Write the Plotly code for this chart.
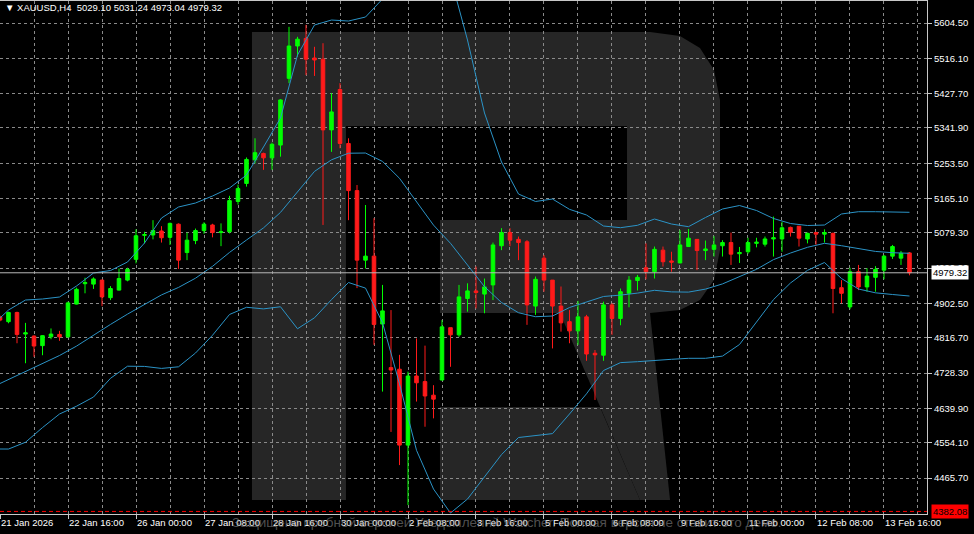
import plotly.graph_objects as go

# ---------------- data ----------------
bar_index = list(range(-1, 107))
opens = [4869, 4857, 4880, 4826, 4821, 4797, 4819, 4825, 4819, 4901, 4952, 4951, 4961, 4917, 4936, 4961,
         5013, 5073, 5074, 5084, 5068, 5101, 5030, 5060, 5085, 5099, 5080, 5082, 5158, 5203, 5262, 5278,
         5267, 5299, 5466, 5547, 5566, 5517, 5514, 5337, 5438, 5303, 5185, 5011, 5021, 4851, 4742, 4738,
         4548, 4721, 4707, 4673, 4711, 4842, 4824, 4915, 4934, 4926, 4949, 5047, 5080, 5063, 5057, 4896,
         5016, 4961, 4896, 4857, 4834, 4869, 4778, 4773, 4899, 4865, 4928, 4960, 4992, 4982, 5036, 5009,
         5004, 5045, 5063, 5035, 5038, 5047, 5055, 5027, 5032, 5053, 5051, 5064, 5064, 5093, 5096, 5064,
         5080, 5076, 5078, 4942, 4894, 4982, 4944, 4968, 4986, 5021, 5016, 5029.10]
highs = [4872, 4882, 4882, 4854, 4823, 4823, 4840, 4834, 4907, 4942, 4967, 4968, 4962, 4946, 4990, 4992,
         5088, 5082, 5111, 5096, 5105, 5103, 5080, 5090, 5106, 5102, 5103, 5172, 5200, 5268, 5316, 5280,
         5305, 5414, 5595, 5570, 5600, 5545, 5554, 5429, 5454, 5316, 5199, 5149, 5116, 4949, 4886, 4774,
         4732, 4815, 4797, 4698, 4861, 4842, 4949, 4953, 4995, 4965, 5055, 5091, 5091, 5070, 5061, 4970,
         5024, 4961, 4945, 4886, 4909, 4874, 4786, 4907, 4903, 4940, 4971, 4974, 5053, 5045, 5045, 5032,
         5086, 5089, 5063, 5060, 5071, 5061, 5080, 5044, 5067, 5067, 5070, 5120, 5107, 5095, 5096, 5080,
         5082, 5088, 5080, 4961, 4992, 4999, 4991, 4996, 5024, 5049, 5034, 5031.24]
lows = [4858, 4853, 4803, 4753, 4769, 4773, 4813, 4809, 4817, 4900, 4928, 4939, 4896, 4911, 4935, 4958,
        5003, 5053, 5063, 5055, 5049, 4989, 5011, 5051, 5077, 5068, 5046, 5078, 5150, 5195, 5253, 5237,
        5237, 5270, 5454, 5520, 5474, 5472, 5099, 5282, 5291, 5111, 4941, 4990, 4799, 4682, 4581, 4498,
        4398, 4657, 4594, 4615, 4710, 4744, 4819, 4882, 4890, 4878, 4911, 5036, 5046, 5011, 4849, 4874,
        4932, 4790, 4832, 4803, 4799, 4759, 4661, 4759, 4824, 4848, 4893, 4935, 4963, 4965, 4995, 4982,
        5003, 5045, 4986, 5011, 5020, 5020, 4999, 5004, 5027, 5043, 5045, 5020, 5032, 5070, 5045, 5053,
        5049, 5055, 4878, 4903, 4888, 4936, 4932, 4932, 4963, 5014, 4999, 4973.04]
closes = [4861, 4880, 4825, 4829, 4796, 4822, 4826, 4819, 4904, 4938, 4955, 4964, 4919, 4940, 4965, 4988,
          5072, 5075, 5085, 5067, 5103, 5011, 5061, 5085, 5101, 5080, 5082, 5160, 5190, 5263, 5280, 5267,
          5301, 5412, 5547, 5564, 5514, 5512, 5337, 5382, 5303, 5185, 5011, 5021, 4850, 4884, 4736, 4548,
          4721, 4704, 4671, 4663, 4844, 4824, 4919, 4934, 4930, 4944, 5049, 5080, 5061, 5055, 4899, 4963,
          4961, 4896, 4854, 4834, 4869, 4776, 4774, 4899, 4865, 4932, 4961, 4968, 4982, 5038, 5007, 5006,
          5049, 5066, 5035, 5039, 5049, 5055, 5026, 5030, 5055, 5056, 5064, 5067, 5092, 5081, 5066, 5078,
          5076, 5080, 4940, 4928, 4982, 4944, 4971, 4988, 5021, 5045, 5028, 4979.32]

bb_index = [-1] + list(range(0, 107, 2))
bb_upper = [4866.1, 4886.2, 4911.2, 4913.7, 4918.7, 4946.2, 4978.8, 4985.0, 5006.3, 5053.9, 5116.4,
            5144.0, 5154.0, 5171.5, 5191.5, 5224.1, 5294.2, 5366.7, 5524.4, 5599.5, 5612.0, 5609.5,
            5619.5, 5664.6, 5752.2, 5784.7, 5757.2, 5719.7, 5562.0, 5379.3, 5256.6, 5176.5, 5157.8,
            5164.0, 5138.2, 5124.0, 5096.4, 5092.2, 5098.2, 5113.9, 5101.4, 5094.7, 5117.7, 5139.0,
            5147.7, 5135.2, 5115.2, 5102.7, 5097.7, 5098.9, 5126.5, 5132.2, 5132.2, 5131.5, 5130.7]
bb_middle = [4702.2, 4712.2, 4733.2, 4752.8, 4772.3, 4795.8, 4823.6, 4850.1, 4875.9, 4900.4, 4924.0,
             4942.7, 4965.8, 4995.5, 5030.3, 5061.4, 5091.7, 5130.5, 5181.8, 5233.1, 5262.1, 5278.6,
             5279.1, 5258.1, 5215.8, 5158.0, 5098.7, 5053.1, 4998.6, 4944.7, 4904.9, 4879.4, 4869.4,
             4871.1, 4892.4, 4907.2, 4920.0, 4923.5, 4928.5, 4935.5, 4931.5, 4931.0, 4938.5, 4951.5,
             4969.5, 4988.0, 5012.3, 5028.8, 5043.1, 5053.1, 5047.1, 5039.1, 5032.8, 5029.6, 5028.1]
bb_lower = [4538.3, 4538.2, 4555.2, 4591.9, 4625.9, 4645.4, 4668.4, 4715.2, 4745.5, 4745.0, 4740.0,
            4744.0, 4778.5, 4823.0, 4875.0, 4893.0, 4889.0, 4894.3, 4839.2, 4866.7, 4912.2, 4955.0,
            4941.0, 4854.4, 4701.5, 4535.0, 4438.1, 4378.0, 4413.1, 4468.9, 4524.2, 4567.0, 4572.5,
            4576.8, 4625.9, 4676.4, 4734.7, 4754.5, 4756.8, 4759.0, 4762.8, 4765.3, 4765.3, 4770.8,
            4799.8, 4856.1, 4912.2, 4953.8, 4985.5, 5005.1, 4965.0, 4938.7, 4929.2, 4925.0, 4921.2]

tick_bars = [-1, 7, 15, 23, 31, 39, 47, 55, 63, 71, 79, 87, 95, 103]
tick_labels = ["21 Jan 2026", "22 Jan 16:00", "26 Jan 00:00", "27 Jan 08:00", "28 Jan 16:00",
               "30 Jan 00:00", "2 Feb 08:00", "3 Feb 16:00", "5 Feb 00:00", "6 Feb 08:00",
               "9 Feb 16:00", "11 Feb 00:00", "12 Feb 08:00", "13 Feb 16:00"]
price_levels = [5604.50, 5516.10, 5427.70, 5341.90, 5253.50, 5165.10, 5079.30, 4990.90,
                4902.50, 4816.70, 4728.30, 4639.90, 4554.10, 4465.70]
last_price = 4979.32
alert_price = 4382.08
title_text = "▼ XAUUSD,H4  5029.10 5031.24 4973.04 4979.32"
watermark_text = "Защищено пробной версией Уведомлений Watcher. Полная версия не ставит это демо."

# ---------------- figure ----------------
W, H = 974, 534
ML, MR, MT, MB = 0, 47, 1, 20
PW, PH = W - ML - MR, H - MT - MB

FONT = "Liberation Sans, Arial, sans-serif"
BAND = "#2b93c6"
GRID = "#8a8a8a"

fig = go.Figure()

fig.add_trace(go.Candlestick(
    x=bar_index, open=opens, high=highs, low=lows, close=closes,
    increasing=dict(line=dict(color="#00ff00", width=1), fillcolor="#00ff00"),
    decreasing=dict(line=dict(color="#ff1a1a", width=1), fillcolor="#ff1a1a"),
    whiskerwidth=0, showlegend=False, hoverinfo="skip"))

for vals in (bb_upper, bb_middle, bb_lower):
    fig.add_trace(go.Scatter(x=bb_index, y=vals, mode="lines",
                             line=dict(color=BAND, width=1), showlegend=False, hoverinfo="skip"))

# current price line and alert line
fig.add_hline(y=last_price, line=dict(color="#b8b8b8", width=1))
fig.add_hline(y=alert_price, line=dict(color="#ff0000", width=1, dash="4px,3px"))


def px(x):
    return (x - ML) / PW


def py(y):
    return 1 - (y - MT) / PH


def path(points):
    return "M " + " L ".join(f"{px(a):.4f},{py(b):.4f}" for a, b in points) + " Z"


LOGO = "#262626"
logo_main = [(252, 32), (650, 32), (680, 36), (700, 48), (714, 70), (720, 100), (720, 250),
             (714, 280), (700, 300), (680, 310), (650, 313), (440, 313), (440, 220), (627, 220),
             (627, 126), (346, 126), (346, 500), (252, 500)]
logo_bottom = [(440, 407), (600, 407), (640, 500), (440, 500)]
logo_leg = [(560, 313), (650, 313), (670, 500), (640, 500)]
for pts in (logo_main, logo_bottom, logo_leg):
    fig.add_shape(type="path", path=path(pts), xref="paper", yref="paper",
                  fillcolor=LOGO, line=dict(width=0), layer="below")

# title
fig.add_annotation(text=title_text, xref="paper", yref="paper", x=px(3), y=py(8),
                   xanchor="left", yanchor="middle", showarrow=False,
                   font=dict(family=FONT, size=9.5, color="#ffffff"))

# price boxes on the axis
fig.add_annotation(text=f"{last_price:.2f}", xref="paper", yref="y", x=1, y=last_price,
                   xanchor="left", yanchor="middle", xshift=4, showarrow=False,
                   bgcolor="#ffffff", borderpad=1,
                   font=dict(family=FONT, size=9.5, color="#000000"))
fig.add_annotation(text=f"{alert_price:.2f}", xref="paper", yref="y", x=1, y=alert_price,
                   xanchor="left", yanchor="middle", xshift=4, showarrow=False,
                   bgcolor="#ff0000", borderpad=1,
                   font=dict(family=FONT, size=9.5, color="#000000"))

# faint watermark text
fig.add_annotation(text=watermark_text, xref="paper", yref="paper", x=px(230), y=py(522),
                   xanchor="left", yanchor="middle", showarrow=False,
                   font=dict(family=FONT, size=13.5, color="rgba(135,135,135,0.6)"))

fig.update_layout(
    width=W, height=H, margin=dict(l=ML, r=MR, t=MT, b=MB),
    paper_bgcolor="#000000", plot_bgcolor="#000000",
    boxgap=0.4, showlegend=False, hovermode=False,
    font=dict(family=FONT, size=9.5, color="#ffffff"),
    xaxis=dict(range=[-1.0, 108.06], rangeslider=dict(visible=False),
               tickmode="array", tickvals=tick_bars, ticktext=tick_labels,
               ticklabelposition="outside right",
               ticks="outside", ticklen=4, tickcolor="#c8c8c8",
               showgrid=True, gridcolor=GRID, griddash="3px,3px", gridwidth=1,
               minor=dict(tickmode="array", tickvals=[b + 4 for b in tick_bars],
                          showgrid=True, gridcolor=GRID, griddash="3px,3px", gridwidth=1),
               showline=True, linecolor="#c8c8c8", mirror=True, zeroline=False,
               tickfont=dict(family=FONT, size=9.5, color="#ffffff")),
    yaxis=dict(range=[4375.6, 5659.6], side="right",
               tickmode="array", tickvals=price_levels,
               ticktext=[f"{v:.2f}" for v in price_levels],
               ticks="outside", ticklen=4, tickcolor="#c8c8c8",
               showgrid=True, gridcolor=GRID, griddash="3px,3px", gridwidth=1,
               showline=True, linecolor="#c8c8c8", zeroline=False,
               tickfont=dict(family=FONT, size=9.5, color="#ffffff")),
)

fig.write_html("out.html", config={"displayModeBar": False},
               post_script="document.body.style.margin='0';document.body.style.background='#000';")
